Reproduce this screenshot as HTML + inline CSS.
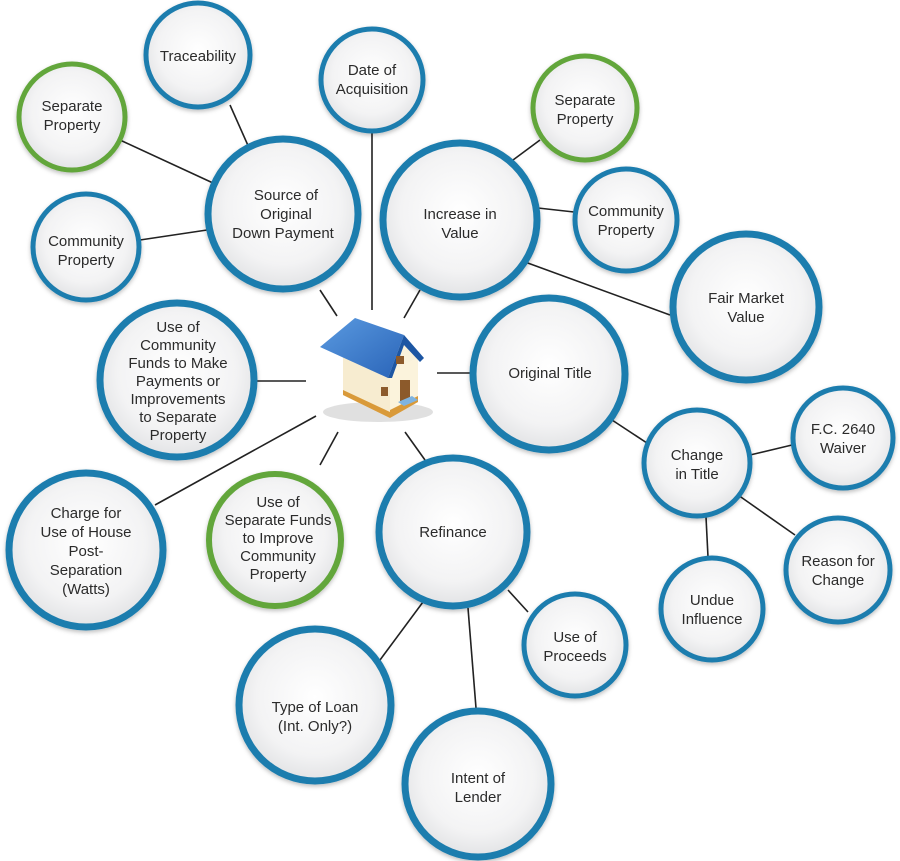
<!DOCTYPE html>
<html><head><meta charset="utf-8"><style>
html,body{margin:0;padding:0;background:#fff;width:900px;height:861px;overflow:hidden}
svg text{font-family:"Liberation Sans",Arial,sans-serif;font-size:15px;fill:#2b2b2b;text-anchor:middle}
</style></head><body>
<svg width="900" height="861" viewBox="0 0 900 861" xmlns="http://www.w3.org/2000/svg">
<defs>
<radialGradient id="g" cx="50%" cy="45%" r="55%">
<stop offset="0" stop-color="#ffffff"/><stop offset="0.7" stop-color="#f3f3f4"/><stop offset="1" stop-color="#e2e3e5"/>
</radialGradient>
<linearGradient id="roof" x1="0" y1="0" x2="1" y2="1"><stop offset="0" stop-color="#5a9ae0"/><stop offset="1" stop-color="#2a64b8"/></linearGradient>
<filter id="sh" x="-20%" y="-20%" width="140%" height="140%"><feDropShadow dx="0" dy="2" stdDeviation="2" flood-color="#000" flood-opacity="0.25"/></filter>
</defs>
<g stroke="#222" stroke-width="1.6">
<line x1="230" y1="105" x2="250" y2="150"/>
<line x1="120" y1="140" x2="213" y2="183"/>
<line x1="140" y1="240" x2="207" y2="230"/>
<line x1="320" y1="290" x2="337" y2="316"/>
<line x1="372" y1="133" x2="372" y2="310"/>
<line x1="420" y1="290" x2="404" y2="318"/>
<line x1="513" y1="160" x2="540" y2="140"/>
<line x1="538" y1="208" x2="574" y2="212"/>
<line x1="525" y1="262" x2="670" y2="315"/>
<line x1="437" y1="373" x2="470" y2="373"/>
<line x1="255" y1="381" x2="306" y2="381"/>
<line x1="316" y1="416" x2="155" y2="505"/>
<line x1="338" y1="432" x2="320" y2="465"/>
<line x1="405" y1="432" x2="425" y2="460"/>
<line x1="612" y1="420" x2="650" y2="445"/>
<line x1="750" y1="455" x2="792" y2="445"/>
<line x1="738" y1="495" x2="795" y2="535"/>
<line x1="706" y1="517" x2="708" y2="557"/>
<line x1="423" y1="602" x2="380" y2="660"/>
<line x1="468" y1="608" x2="476" y2="708"/>
<line x1="508" y1="590" x2="528" y2="612"/>
</g>
<g fill="url(#g)" filter="url(#sh)">
<circle cx="198" cy="55" r="52" stroke="#1f7dae" stroke-width="5"/>
<circle cx="72" cy="117" r="53" stroke="#62a63a" stroke-width="5"/>
<circle cx="372" cy="80" r="51" stroke="#1f7dae" stroke-width="5"/>
<circle cx="585" cy="108" r="52" stroke="#62a63a" stroke-width="5"/>
<circle cx="283" cy="214" r="75" stroke="#1f7dae" stroke-width="7"/>
<circle cx="460" cy="220" r="77" stroke="#1f7dae" stroke-width="7"/>
<circle cx="86" cy="247" r="53" stroke="#1f7dae" stroke-width="5"/>
<circle cx="626" cy="220" r="51" stroke="#1f7dae" stroke-width="5"/>
<circle cx="746" cy="307" r="73" stroke="#1f7dae" stroke-width="7"/>
<circle cx="177" cy="380" r="77" stroke="#1f7dae" stroke-width="7"/>
<circle cx="549" cy="374" r="76" stroke="#1f7dae" stroke-width="7"/>
<circle cx="697" cy="463" r="53" stroke="#1f7dae" stroke-width="5"/>
<circle cx="843" cy="438" r="50" stroke="#1f7dae" stroke-width="5"/>
<circle cx="838" cy="570" r="52" stroke="#1f7dae" stroke-width="5"/>
<circle cx="712" cy="609" r="51" stroke="#1f7dae" stroke-width="5"/>
<circle cx="86" cy="550" r="77" stroke="#1f7dae" stroke-width="7"/>
<circle cx="275" cy="540" r="66" stroke="#62a63a" stroke-width="6"/>
<circle cx="453" cy="532" r="74" stroke="#1f7dae" stroke-width="7"/>
<circle cx="575" cy="645" r="51" stroke="#1f7dae" stroke-width="5"/>
<circle cx="315" cy="705" r="76" stroke="#1f7dae" stroke-width="7"/>
<circle cx="478" cy="784" r="73" stroke="#1f7dae" stroke-width="7"/>
</g>
<!-- house -->
<g>
<ellipse cx="378" cy="412" rx="55" ry="10" fill="#000" opacity="0.12"/>
<polygon points="343,350 343,395 390,418 390,372" fill="#f7ecd0"/>
<polygon points="343,395 390,418 390,412 343,390" fill="#d99a3a"/>
<polygon points="390,372 418,358 418,400 390,418" fill="#fbf3dc"/>
<polygon points="390,410 418,396 418,402 390,418" fill="#d99a3a"/>
<polygon points="390,372 404,335 418,358" fill="#f9f1da"/>
<polygon points="320,347 355,318 404,335 388,378" fill="url(#roof)"/>
<polygon points="388,378 404,335 424,358 420,362 404,345 392,378" fill="#1d56a3"/>
<rect x="400" y="380" width="10" height="21" fill="#8c5a2b"/>
<rect x="396" y="356" width="8" height="8" fill="#8c5a2b"/>
<rect x="381" y="387" width="7" height="9" fill="#8c5a2b"/>
<polygon points="398,402 412,396 418,400 404,406" fill="#7fb4e0"/>
</g>
<text x="198" y="61">Traceability</text>
<text x="72" y="111">Separate</text><text x="72" y="130">Property</text>
<text x="372" y="75">Date of</text><text x="372" y="94">Acquisition</text>
<text x="585" y="105">Separate</text><text x="585" y="124">Property</text>
<text x="286" y="200">Source of</text><text x="286" y="219">Original</text><text x="283" y="238">Down Payment</text>
<text x="460" y="219">Increase in</text><text x="460" y="238">Value</text>
<text x="86" y="246">Community</text><text x="86" y="265">Property</text>
<text x="626" y="216">Community</text><text x="626" y="235">Property</text>
<text x="746" y="303">Fair Market</text><text x="746" y="322">Value</text>
<text x="178" y="332">Use of</text><text x="178" y="350">Community</text><text x="178" y="368">Funds to Make</text><text x="178" y="386">Payments or</text><text x="178" y="404">Improvements</text><text x="178" y="422">to Separate</text><text x="178" y="440">Property</text>
<text x="550" y="378">Original Title</text>
<text x="697" y="460">Change</text><text x="697" y="479">in Title</text>
<text x="843" y="434">F.C. 2640</text><text x="843" y="453">Waiver</text>
<text x="838" y="566">Reason for</text><text x="838" y="585">Change</text>
<text x="712" y="605">Undue</text><text x="712" y="624">Influence</text>
<text x="86" y="518">Charge for</text><text x="86" y="537">Use of House</text><text x="86" y="556">Post-</text><text x="86" y="575">Separation</text><text x="86" y="594">(Watts)</text>
<text x="278" y="507">Use of</text><text x="278" y="525">Separate Funds</text><text x="278" y="543">to Improve</text><text x="278" y="561">Community</text><text x="278" y="579">Property</text>
<text x="453" y="537">Refinance</text>
<text x="575" y="642">Use of</text><text x="575" y="661">Proceeds</text>
<text x="315" y="712">Type of Loan</text><text x="315" y="731">(Int. Only?)</text>
<text x="478" y="783">Intent of</text><text x="478" y="802">Lender</text>
</svg>
</body></html>
